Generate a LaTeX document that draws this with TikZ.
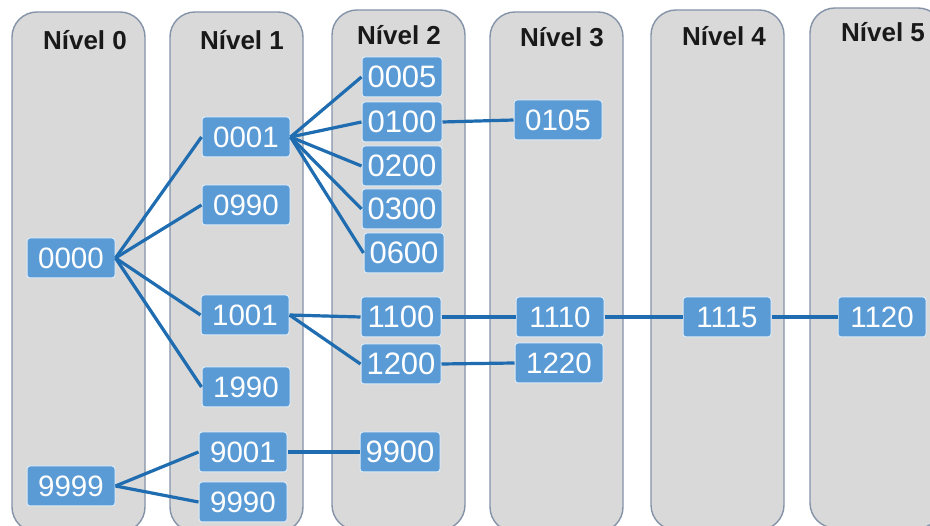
\documentclass[tikz,border=0pt]{standalone}
\usepackage{fontspec}
\setmainfont{Liberation Sans}
\definecolor{colfill}{HTML}{D9D9D9}
\definecolor{coledge}{HTML}{8493A8}
\definecolor{keyfill}{HTML}{5B9BD5}
\definecolor{keyedge}{HTML}{DDEBF7}
\definecolor{linkblue}{HTML}{1F6DB0}
\tikzset{
	column/.style={fill=colfill, draw=coledge, line width=1.4pt, rounded corners=25pt},
	title/.style={anchor=base, font=\fontsize{26}{28}\selectfont\bfseries, text=black!90},
	keybox/.style={fill=keyfill, draw=keyedge, line width=1pt, rounded corners=3pt,
		text=white, font=\fontsize{29.5}{31}\selectfont, inner xsep=0pt, inner ysep=0pt,
		minimum width=88pt, minimum height=40pt},
	narrow/.style={minimum width=80pt, font=\fontsize{31}{33}\selectfont},
	link/.style={draw=linkblue, line width=3.2pt}
}
\begin{document}
\begin{tikzpicture}[x=1pt, y=-1pt]
	\useasboundingbox (0,0) rectangle (930,526);
	\clip (0,0) rectangle (930,526);
	\fill[white] (0,0) rectangle (930,526);

	% level columns
	\foreach \x/\t in {12/12, 170/12, 332/10, 490/12, 651/10, 810/8}{
		\draw[column] (\x,\t) rectangle ++(133,520);
	}

	\foreach \n/\x/\y in {0/85/50, 1/242/50, 2/399/45, 3/562/47, 4/724/46, 5/883/42}{
		\node[title] (t\n) at (\x,\y) {Nível \n};
	}

	% level 0
	\node[keybox] (k0000) at (71,258) {0000};
	\node[keybox] (k9999) at (71,486) {9999};

	% level 1
	\node[keybox] (k0001) at (246,137) {0001};
	\node[keybox] (k0990) at (246,205) {0990};
	\node[keybox] (k1001) at (245,315) {1001};
	\node[keybox] (k1990) at (246,387) {1990};
	\node[keybox] (k9001) at (243,452) {9001};
	\node[keybox] (k9990) at (243,502) {9990};

	% level 2
	\node[keybox, narrow] (k0005) at (402,77) {0005};
	\node[keybox, narrow] (k0100) at (402,122) {0100};
	\node[keybox, narrow] (k0200) at (402,166) {0200};
	\node[keybox, narrow] (k0300) at (402,209) {0300};
	\node[keybox, narrow] (k0600) at (404,253) {0600};
	\node[keybox, narrow] (k1100) at (401,317) {1100};
	\node[keybox, narrow] (k1200) at (401,364) {1200};
	\node[keybox, narrow] (k9900) at (400,452) {9900};

	% levels 3 to 5
	\node[keybox] (k0105) at (558,120) {0105};
	\node[keybox] (k1110) at (560,317) {1110};
	\node[keybox] (k1220) at (559,363) {1220};
	\node[keybox] (k1115) at (727,317) {1115};
	\node[keybox] (k1120) at (882,317) {1120};

	\foreach \a/\b in {k0000/k0001, k0000/k0990, k0000/k1001, k0000/k1990,
		k9999/k9001, k9999/k9990,
		k0001/k0005, k0001/k0100, k0001/k0200, k0001/k0300, k0001/k0600,
		k1001/k1100, k1001/k1200, k9001/k9900,
		k0100/k0105, k1100/k1110, k1200/k1220, k1110/k1115, k1115/k1120}{
		\draw[link] (\a.east) -- (\b.west);
	}
\end{tikzpicture}
\end{document}
